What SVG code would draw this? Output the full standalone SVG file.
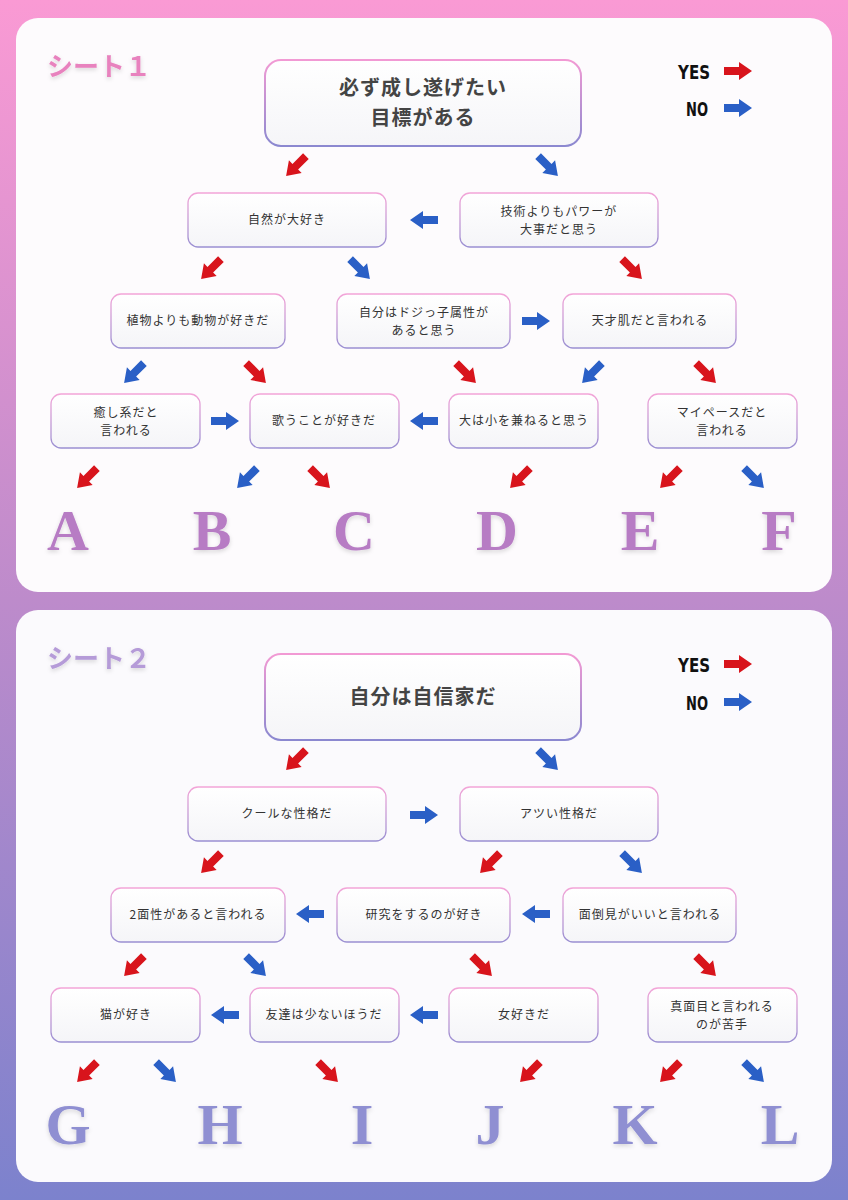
<svg xmlns="http://www.w3.org/2000/svg" width="848" height="1200" viewBox="0 0 848 1200">
<defs>
<linearGradient id="bg" x1="0" y1="0" x2="0" y2="1"><stop offset="0" stop-color="#fa9ad4"/><stop offset="0.5" stop-color="#bd8bcb"/><stop offset="1" stop-color="#7c82cd"/></linearGradient>
<linearGradient id="bd" x1="0" y1="0" x2="0" y2="1"><stop offset="0" stop-color="#f3a5d8"/><stop offset="1" stop-color="#9a8fd2"/></linearGradient>
<linearGradient id="bdt" x1="0" y1="0" x2="0" y2="1"><stop offset="0" stop-color="#f29ad4"/><stop offset="1" stop-color="#8b88d0"/></linearGradient>
<linearGradient id="fl" x1="0" y1="0" x2="0" y2="1"><stop offset="0" stop-color="#ffffff"/><stop offset="1" stop-color="#f5f5f8"/></linearGradient>
<path id="ar" d="M-14,-4 L1,-4 L1,-9 L14,0 L1,9 L1,4 L-14,4 Z"/>
<filter id="sh" x="-20%" y="-20%" width="140%" height="150%"><feDropShadow dx="0" dy="2" stdDeviation="2" flood-color="#000" flood-opacity="0.15"/></filter>
</defs>
<style>
.n rect{fill:url(#fl);stroke:url(#bd);stroke-width:1.3}
.t{font-family:"Noto Sans CJK JP","Noto Sans",sans-serif;font-size:12px;fill:#333;text-anchor:middle;letter-spacing:1px}
.tt{font-family:"Noto Sans CJK JP",sans-serif;font-size:20px;font-weight:bold;fill:#444;text-anchor:middle;letter-spacing:1px}
.r{fill:#d8141c}.b{fill:#2a5fc6}
.lg{font-family:"DejaVu Sans","Liberation Sans",sans-serif;font-stretch:condensed;font-weight:bold;font-size:19px;fill:#111}
.L{font-family:"Liberation Serif",serif;font-weight:bold;font-size:58px;text-anchor:middle;filter:url(#sh)}
.h{font-family:"Noto Sans CJK JP",sans-serif;font-weight:bold;font-size:26px;filter:url(#sh)}
</style>
<rect width="848" height="1200" fill="url(#bg)"/>
<rect x="16" y="18" width="816" height="574" rx="22" fill="#fdfbfd"/>
<rect x="16" y="610" width="816" height="572" rx="22" fill="#fbfafd"/>
<text class="h" x="47" y="76" fill="#e882be">シート１</text>
<text class="h" x="47" y="668" fill="#b59bd8">シート２</text>
<g id="legend1"><text class="lg" x="678" y="79" textLength="32" lengthAdjust="spacingAndGlyphs">YES</text><use href="#ar" class="r" transform="translate(738,71)"/><text class="lg" x="686" y="116" textLength="22" lengthAdjust="spacingAndGlyphs">NO</text><use href="#ar" class="b" transform="translate(738,108)"/></g>
<g id="legend2"><text class="lg" x="678" y="672" textLength="32" lengthAdjust="spacingAndGlyphs">YES</text><use href="#ar" class="r" transform="translate(738,664)"/><text class="lg" x="686" y="710" textLength="22" lengthAdjust="spacingAndGlyphs">NO</text><use href="#ar" class="b" transform="translate(738,702)"/></g>

<g id="s1top" class="n"><rect x="265" y="60" width="316" height="86" rx="16" style="stroke:url(#bdt);stroke-width:2"/><text class="tt" x="423" y="95">必ず成し遂げたい</text><text class="tt" x="423" y="125">目標がある</text></g>
<g id="n1a" class="n"><rect x="188" y="193" width="198" height="54" rx="10"/><text class="t" x="287" y="224">自然が大好き</text></g>
<g id="n1b" class="n"><rect x="460" y="193" width="198" height="54" rx="10"/><text class="t" x="559" y="216">技術よりもパワーが</text><text class="t" x="559" y="234">大事だと思う</text></g>
<g id="n1c" class="n"><rect x="111" y="294" width="174" height="54" rx="10"/><text class="t" x="198" y="325">植物よりも動物が好きだ</text></g>
<g id="n1d" class="n"><rect x="337" y="294" width="173" height="54" rx="10"/><text class="t" x="424" y="317">自分はドジっ子属性が</text><text class="t" x="424" y="335">あると思う</text></g>
<g id="n1e" class="n"><rect x="563" y="294" width="173" height="54" rx="10"/><text class="t" x="650" y="325">天才肌だと言われる</text></g>
<g id="n1f" class="n"><rect x="51" y="394" width="149" height="54" rx="10"/><text class="t" x="126" y="417">癒し系だと</text><text class="t" x="126" y="435">言われる</text></g>
<g id="n1g" class="n"><rect x="250" y="394" width="149" height="54" rx="10"/><text class="t" x="324" y="425">歌うことが好きだ</text></g>
<g id="n1h" class="n"><rect x="449" y="394" width="149" height="54" rx="10"/><text class="t" x="524" y="425">大は小を兼ねると思う</text></g>
<g id="n1i" class="n"><rect x="648" y="394" width="149" height="54" rx="10"/><text class="t" x="722" y="417">マイペースだと</text><text class="t" x="722" y="435">言われる</text></g>
<g id="res1" fill="#b77cc4">
<text class="L" x="68" y="550">A</text><text class="L" x="212" y="550">B</text><text class="L" x="354" y="550">C</text><text class="L" x="497" y="550">D</text><text class="L" x="640" y="550">E</text><text class="L" x="779" y="550">F</text></g>

<g id="s2top" class="n"><rect x="265" y="654" width="316" height="86" rx="16" style="stroke:url(#bdt);stroke-width:2"/><text class="tt" x="423" y="704">自分は自信家だ</text></g>
<g id="n2a" class="n"><rect x="188" y="787" width="198" height="54" rx="10"/><text class="t" x="287" y="818">クールな性格だ</text></g>
<g id="n2b" class="n"><rect x="460" y="787" width="198" height="54" rx="10"/><text class="t" x="559" y="818">アツい性格だ</text></g>
<g id="n2c" class="n"><rect x="111" y="888" width="174" height="54" rx="10"/><text class="t" x="198" y="919">2面性があると言われる</text></g>
<g id="n2d" class="n"><rect x="337" y="888" width="173" height="54" rx="10"/><text class="t" x="424" y="919">研究をするのが好き</text></g>
<g id="n2e" class="n"><rect x="563" y="888" width="173" height="54" rx="10"/><text class="t" x="650" y="919">面倒見がいいと言われる</text></g>
<g id="n2f" class="n"><rect x="51" y="988" width="149" height="54" rx="10"/><text class="t" x="126" y="1019">猫が好き</text></g>
<g id="n2g" class="n"><rect x="250" y="988" width="149" height="54" rx="10"/><text class="t" x="324" y="1019">友達は少ないほうだ</text></g>
<g id="n2h" class="n"><rect x="449" y="988" width="149" height="54" rx="10"/><text class="t" x="524" y="1019">女好きだ</text></g>
<g id="n2i" class="n"><rect x="648" y="988" width="149" height="54" rx="10"/><text class="t" x="722" y="1011">真面目と言われる</text><text class="t" x="722" y="1029">のが苦手</text></g>
<g id="res2" fill="#8f8fd2">
<text class="L" x="68" y="1144">G</text><text class="L" x="220" y="1144">H</text><text class="L" x="362" y="1144">I</text><text class="L" x="490" y="1144">J</text><text class="L" x="635" y="1144">K</text><text class="L" x="780" y="1144">L</text></g>

<g id="connectors">
<use href="#ar" class="r" transform="translate(296,166) rotate(135)"/>
<use href="#ar" class="b" transform="translate(548,166) rotate(45)"/>
<use href="#ar" class="b" transform="translate(424,220) rotate(180)"/>
<use href="#ar" class="r" transform="translate(211,269) rotate(135)"/>
<use href="#ar" class="b" transform="translate(360,269) rotate(45)"/>
<use href="#ar" class="r" transform="translate(632,269) rotate(45)"/>
<use href="#ar" class="b" transform="translate(536,321)"/>
<use href="#ar" class="b" transform="translate(134,373) rotate(135)"/>
<use href="#ar" class="r" transform="translate(256,373) rotate(45)"/>
<use href="#ar" class="r" transform="translate(466,373) rotate(45)"/>
<use href="#ar" class="b" transform="translate(592,373) rotate(135)"/>
<use href="#ar" class="r" transform="translate(706,373) rotate(45)"/>
<use href="#ar" class="b" transform="translate(225,421)"/>
<use href="#ar" class="b" transform="translate(424,421) rotate(180)"/>
<use href="#ar" class="r" transform="translate(87,478) rotate(135)"/>
<use href="#ar" class="b" transform="translate(247,478) rotate(135)"/>
<use href="#ar" class="r" transform="translate(320,478) rotate(45)"/>
<use href="#ar" class="r" transform="translate(520,478) rotate(135)"/>
<use href="#ar" class="r" transform="translate(670,478) rotate(135)"/>
<use href="#ar" class="b" transform="translate(754,478) rotate(45)"/>

<use href="#ar" class="r" transform="translate(296,760) rotate(135)"/>
<use href="#ar" class="b" transform="translate(548,760) rotate(45)"/>
<use href="#ar" class="b" transform="translate(424,815)"/>
<use href="#ar" class="r" transform="translate(211,863) rotate(135)"/>
<use href="#ar" class="r" transform="translate(490,863) rotate(135)"/>
<use href="#ar" class="b" transform="translate(632,863) rotate(45)"/>
<use href="#ar" class="b" transform="translate(310,914) rotate(180)"/>
<use href="#ar" class="b" transform="translate(536,914) rotate(180)"/>
<use href="#ar" class="r" transform="translate(134,966) rotate(135)"/>
<use href="#ar" class="b" transform="translate(256,966) rotate(45)"/>
<use href="#ar" class="r" transform="translate(482,966) rotate(45)"/>
<use href="#ar" class="r" transform="translate(706,966) rotate(45)"/>
<use href="#ar" class="b" transform="translate(225,1015) rotate(180)"/>
<use href="#ar" class="b" transform="translate(424,1015) rotate(180)"/>
<use href="#ar" class="r" transform="translate(87,1072) rotate(135)"/>
<use href="#ar" class="b" transform="translate(166,1072) rotate(45)"/>
<use href="#ar" class="r" transform="translate(328,1072) rotate(45)"/>
<use href="#ar" class="r" transform="translate(530,1072) rotate(135)"/>
<use href="#ar" class="r" transform="translate(670,1072) rotate(135)"/>
<use href="#ar" class="b" transform="translate(754,1072) rotate(45)"/>
</g>
</svg>
